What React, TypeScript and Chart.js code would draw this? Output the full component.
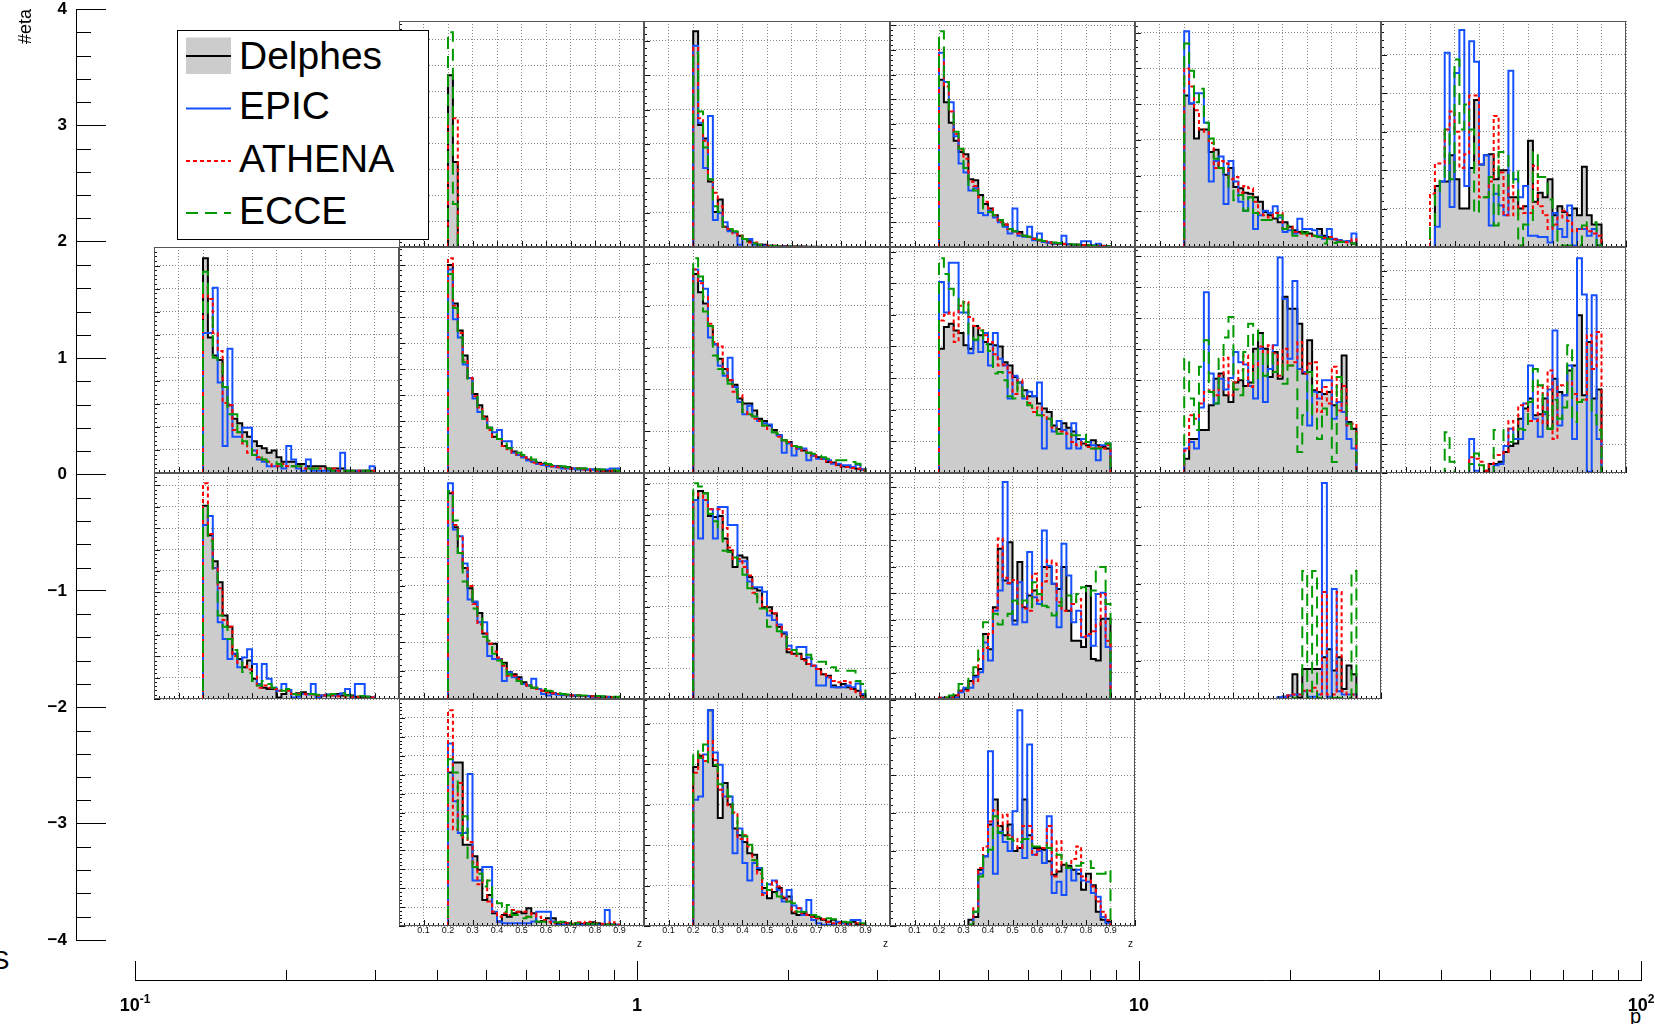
import React, { useEffect, useRef } from 'react';
import Chart from 'chart.js/auto';

const FONT = '"Liberation Sans", Arial, Helvetica, sans-serif';

// ---------- series ----------
const seriesNames = ['Delphes', 'EPIC', 'ATHENA', 'ECCE'];
const seriesColors = ['#000000', '#1450ff', '#ff0000', '#009a00'];
const delphesFill = '#cccccc';
const seriesDash: number[][] = [[], [], [4, 3], [12, 7]];

// ---------- main axes ----------
const etaMin = -4;
const etaMax = 4;
const etaTickValues = [-4, -3, -2, -1, 0, 1, 2, 3, 4];
const pMin = 0.1;
const pMax = 100;
const pTickValues = [0.1, 1, 10, 100];
const pTickBase = ['10', '1', '10', '10'];
const pTickExp = ['-1', '', '', '2'];

// ---------- pad axes ----------
const zTickValues = [0.1, 0.2, 0.3, 0.4, 0.5, 0.6, 0.7, 0.8, 0.9];
const zTickLabels = ['0.1', '0.2', '0.3', '0.4', '0.5', '0.6', '0.7', '0.8', '0.9'];
const zBinWidth = 0.02;

// ---------- histogram contents (height in % of pad range), bins of 0.02 from zStart ----------
// row 0 (eta 2..4)
const d_0_1 = [76, 37.6];
const e_0_1 = [0, 0];
const a_0_1 = [57, 57];
const c_0_1 = [95, 19];

const d_0_2 = [95.5, 54, 48, 29, 15.5, 21, 9, 7.5, 6.5, 5, 3.5, 2.5, 1.5, 1, 1, 0.5, 0.5, 0.3, 0.3, 0.3, 0.2, 0.2, 0.2, 0.1, 0.1, 0.1, 0, 0, 0, 0, 0, 0, 0, 0, 0];
const e_0_2 = [89, 55, 35, 58, 12, 15, 11, 7, 6.5, 1, 3.5, 3.5, 1, 1, 0.5, 0.5, 0.3, 0.3, 0.2, 0.2, 0.1, 0.1, 0, 0, 0, 0, 0, 0, 0, 0, 0, 0, 0, 0, 0];
const a_0_2 = [88, 57, 47, 30, 24, 18, 9, 8, 6, 5, 3.5, 2, 2, 1, 0.8, 0.5, 0.5, 0.3, 0.3, 0.2, 0.2, 0.1, 0.1, 0, 0, 0, 0, 0, 0, 0, 0, 0, 0, 0, 0];
const c_0_2 = [86, 60, 44, 30, 18, 15.5, 9, 8, 7, 5.5, 3.5, 2.5, 1.5, 1, 0.8, 0.5, 0.4, 0.3, 0.2, 0.2, 0.1, 0.1, 0, 0, 0, 0, 0, 0, 0, 0, 0, 0, 0, 0, 0];

const d_0_3 = [74, 64, 55, 47, 42, 41, 30, 29.5, 23, 19, 17, 14, 12, 10, 8, 7, 6.6, 5, 4.4, 3.8, 3, 2.2, 2, 1.6, 1.5, 1.4, 1.2, 1, 1, 0.8, 0.8, 0.6, 0.5, 0.4, 0.4];
const e_0_3 = [86, 73, 64, 49, 37, 33, 25, 26, 15, 14, 16, 13, 11, 9, 6, 17, 5, 4.5, 9, 3, 6, 2.2, 2, 1.6, 1.4, 5, 1.2, 1, 1, 2.5, 2.5, 0.8, 1.4, 0.5, 0.4];
const a_0_3 = [88, 71, 60, 50, 43, 39, 29, 27, 22, 20, 17, 14, 11, 10, 8, 7, 6, 5, 4.5, 3.5, 3, 2.5, 2, 1.8, 1.5, 1.3, 1.2, 1, 1, 0.8, 0.7, 0.6, 0.5, 0.4, 0.3];
const c_0_3 = [95.5, 73, 60, 51, 43.5, 35, 26.6, 25, 22, 17, 15.5, 14, 12, 9.5, 8, 7, 6, 5, 4.5, 3.8, 3.2, 2.6, 2.2, 2, 1.8, 1.5, 1.3, 1.1, 1, 0.8, 0.7, 0.6, 0.5, 0.4, 0.3];

const d_0_4 = [67, 63.5, 48, 52, 52, 42, 43, 35, 32, 35, 26.6, 26, 24, 23.6, 22, 20, 15.5, 14, 12.6, 11, 11, 9, 7.4, 6.6, 6.6, 6, 5, 8, 5, 4.4, 3.4, 3, 2.2, 2.5, 1.5];
const e_0_4 = [95.5, 63.5, 68, 68, 55, 29, 38, 40, 19, 38, 29, 20, 16, 22, 8, 14, 16, 15, 18, 13, 6.6, 7.4, 6, 12.5, 8, 8, 7.4, 5, 3.7, 8, 3.7, 3, 2.5, 2.5, 6];
const a_0_4 = [79, 71, 60.5, 52, 51, 46, 35, 38, 37, 30, 31, 24, 27, 26, 20, 15, 14, 13, 15, 15, 8, 9, 6.6, 6, 5.5, 5, 5, 4.5, 4, 4.4, 3.4, 2.5, 2.2, 2, 3.4];
const c_0_4 = [90, 78, 64, 70, 55, 48, 39, 35, 32, 25, 20.7, 23, 16, 22, 15, 12, 12, 12, 12, 14, 8, 9.5, 5, 7, 6, 6.5, 5, 4.4, 1.5, 3.7, 1.8, 2.2, 2.2, 1.8, 1.5];

const d_0_5 = [0, 27, 29, 29, 40.6, 30, 17, 17, 35, 65, 36.5, 40.6, 41, 30, 34, 34, 22, 22, 17, 18, 47, 20, 24, 22, 30, 14, 18, 15.5, 14, 17, 14, 35.5, 14, 10, 10];
const e_0_5 = [0, 9, 29, 86, 17.7, 77, 96, 27, 91, 82, 36.5, 40.6, 9.5, 23.6, 18.4, 14, 78, 30, 22, 27, 5, 5, 4.4, 4.4, 2, 15, 8, 4.4, 18.4, 0.7, 8, 8, 5, 8, 0.7];
const a_0_5 = [23.6, 37, 37, 52, 60, 51, 35, 41, 67, 67, 22, 22, 29, 58, 33, 14, 27, 14, 18, 15, 15, 36, 18, 14, 8, 10, 13, 16, 11.5, 7, 8, 9, 7, 6, 5];
const c_0_5 = [10, 24.5, 31, 52, 30, 83, 52, 63, 52, 15, 22, 22, 31, 9.5, 42, 42, 27, 34, 0.7, 10, 10, 42, 31, 31, 21, 9.5, 0.7, 0.7, 0.7, 0.7, 0.7, 9.5, 11, 11, 0.7];

// row 1 (eta 0..2)
const d_1_0 = [95, 60, 52, 50, 38, 30, 24, 22, 18, 16, 14, 12, 11, 9, 10, 7, 5, 5, 5, 4, 4, 3, 3, 3, 3, 2, 2, 2, 2, 1, 1, 1, 1, 1, 1];
const e_1_0 = [62, 62, 82, 40, 12, 55, 16, 16, 20, 20, 10, 6, 5, 3, 3, 3, 2, 12, 6, 2, 1, 6, 1, 1, 1, 1, 1, 1, 9, 1, 1, 1, 1, 1, 3];
const a_1_0 = [82, 77, 62, 54, 31, 30, 19, 18, 13, 9, 10, 7, 6, 5, 3, 3, 4, 3, 3, 3, 2, 2, 2, 2, 2, 2, 2, 1, 1, 1, 1, 1, 1, 1, 1];
const c_1_0 = [89, 69, 51, 49, 38, 26, 26, 18, 14, 12, 8, 7, 6, 5, 5, 4, 3, 3, 3, 3, 3, 2, 2, 2, 2, 2, 1, 1, 1, 1, 1, 1, 1, 1, 0.5];

const d_1_1 = [92, 75, 63, 52, 42, 35, 30, 25, 20, 16, 15, 12, 11, 9.5, 8, 7, 6, 5, 4.5, 4, 3.5, 3, 3, 2.5, 2.5, 2, 2, 2, 1.5, 1.5, 1.5, 1, 1, 1, 1];
const e_1_1 = [90, 68, 60, 48, 42, 33, 27, 24, 20, 18, 19, 14, 14, 9, 8, 7, 5.5, 5, 4, 3.5, 3, 3, 2.5, 2, 2, 2, 1.5, 1.5, 1.5, 1.5, 1, 1.5, 1.5, 2, 2];
const a_1_1 = [95, 74, 62, 50, 42, 34, 29, 25, 19, 16, 15, 12, 10.5, 9, 8, 7, 6, 4.5, 4, 4, 3.5, 3, 2.5, 2.5, 2, 2, 2, 1.5, 1.5, 1, 1, 1, 1, 1, 0.5];
const c_1_1 = [88, 73, 60, 49, 41, 35, 28, 24, 20, 17, 15, 13, 11, 10, 9, 8, 7, 6, 5, 4.5, 4, 3.5, 3, 3, 2.5, 2.5, 2, 2, 2, 2, 1.5, 1.5, 1.5, 1.5, 1];

const d_1_2 = [88, 80, 75, 65, 57, 50.6, 46, 41, 39, 33, 30.7, 30.7, 27.7, 24, 23, 21, 19, 16.7, 14.5, 13.7, 12, 10.8, 10, 9, 7.7, 7, 6.3, 4.9, 4.6, 3.7, 3, 2.7, 2.4, 1.9, 1.6];
const e_1_2 = [90, 85, 81.5, 60, 57, 47.5, 43, 51, 38, 31.4, 26, 29.8, 25, 23, 22, 21.5, 18, 16.7, 9, 13, 7.7, 10.8, 10.8, 5.6, 7.7, 6.3, 6.3, 5.6, 4.1, 4.1, 3.4, 3.4, 2.7, 3.7, 1.6];
const a_1_2 = [90, 84, 78, 66, 58, 56, 46, 41, 36, 34.5, 27, 25.5, 24, 23, 21, 19.5, 18, 16, 14.5, 13.7, 12, 10.8, 10, 9, 7.7, 7, 6.3, 4.9, 4.6, 3.4, 2.7, 2.7, 2.2, 1.9, 1.2];
const c_1_2 = [95, 87, 71.5, 65, 52, 46, 44, 39.5, 37, 31.4, 27, 26, 25, 23, 21, 19.5, 18, 17.4, 14.5, 13, 12, 11.5, 10, 9, 8.5, 7.7, 7, 6.3, 5.6, 5.6, 5.6, 5.6, 4.9, 4.1, 3.4];

const d_1_3 = [55, 64.6, 66, 63, 62, 56.5, 55, 65, 61, 58, 57, 56.5, 56, 49, 47.6, 42.5, 40, 36.6, 34, 34, 30.7, 28.5, 27, 21, 19.5, 22, 20, 18.4, 15, 13, 12.3, 14.5, 12.3, 11.5, 10.8];
const e_1_3 = [84.5, 71, 93, 93, 71, 71, 53, 58.7, 53.5, 62, 47.6, 62, 50.6, 47.6, 33, 43, 40, 33, 36, 34, 40, 10.8, 24, 18.4, 23, 19, 10.8, 22, 10.8, 15, 13.7, 12.3, 5.6, 12.3, 13];
const a_1_3 = [67.5, 70, 71, 58, 74, 75.7, 69, 65, 64, 61, 58, 52.5, 47.6, 48, 44.5, 35, 41, 34, 31, 27, 29, 25.5, 24, 20, 18.4, 18.4, 17.4, 13.7, 12.3, 13.7, 11.5, 10.8, 11.5, 10.8, 12.3];
const c_1_3 = [95, 88, 81.5, 78.6, 71, 76, 61, 59, 63, 57, 54, 44, 44.7, 41, 34, 33, 40, 34, 30, 27.7, 25.5, 24, 24, 19.6, 17.4, 17.4, 17.4, 16.7, 16.7, 17.4, 13.7, 10.8, 10.8, 10.8, 13];

const d_1_4 = [6.3, 15, 15, 19, 19, 30, 41.7, 44, 34.4, 31.4, 40, 41, 38.5, 40, 55, 62, 55, 42.5, 53.5, 41.7, 78, 72.7, 72.7, 66, 44, 58.7, 36.6, 35.8, 35, 35.8, 30, 31.4, 52, 22.6, 19.6];
const e_1_4 = [10.8, 13.7, 10.8, 29, 80, 44, 30.7, 41.7, 37, 42, 53.5, 49, 48, 38.5, 33, 55, 31.4, 46, 56.5, 95.4, 77, 50.6, 85, 46, 44.7, 21, 36, 33, 41, 41, 24, 31.4, 27, 15, 10.8];
const a_1_4 = [10, 25.5, 24, 30.7, 35.8, 36.6, 34.4, 43, 51, 34.4, 40, 45.4, 52, 38, 47.6, 56, 53, 56.5, 53, 43, 55, 47.6, 49, 58, 44, 48.5, 49, 27, 38, 30.7, 47, 27.7, 38.5, 21, 21.8];
const c_1_4 = [50.6, 33, 19, 47, 58.7, 35.8, 30.7, 50.6, 60, 69, 37, 34.4, 53.5, 66, 40, 63, 43, 53.5, 44.7, 48.5, 39.5, 47.6, 47.6, 9.3, 25.5, 44.7, 24, 15, 28.5, 24, 4.9, 42.5, 30.7, 21.8, 19.6];

const d_1_5 = [0, 0, 0, 0, 0, 0, 0, 0, 0, 0, 0, 1, 4, 4, 5, 9.3, 12, 13, 24, 28.5, 33, 25.5, 26, 33, 19.6, 41.7, 35.8, 34.4, 45.4, 47.6, 69.8, 34.4, 58, 33, 37];
const e_1_5 = [0, 0, 0, 0, 0, 0, 0, 0, 15, 1, 0, 0, 0, 3.4, 4, 12, 19.6, 15, 15, 30.7, 47.6, 24, 16, 26, 37, 63, 21, 34.4, 47.6, 15, 95, 79, 0.5, 78.6, 15];
const a_1_5 = [0, 0, 0, 0, 0, 0, 0, 0, 7, 6.3, 5, 1, 4, 8, 8, 9.3, 23, 19, 30, 30.7, 23, 23, 38.8, 22, 45.4, 15, 38.8, 38.8, 40, 35, 31.4, 32.4, 61, 46, 62.4];
const c_1_5 = [0, 0, 0, 18, 5, 0, 0, 0, 4, 8.6, 3.4, 0, 0, 19, 19, 14.5, 13.7, 19, 19.6, 19, 31.4, 46, 38.8, 27, 19.6, 32.4, 24, 29, 56.5, 22.6, 31.4, 32.4, 32.4, 25.5, 19];

// row 2 (eta -2..0)
const d_2_0 = [85.5, 72.5, 61, 51.7, 37, 32, 20, 17.7, 14, 17, 9, 6.6, 5, 4.4, 4.4, 0.7, 2.2, 4, 2.2, 2.5, 3, 2.2, 2.2, 1.5, 1.5, 1.8, 1.8, 2.2, 1.5, 1.8, 1.5, 1, 1, 1, 0.7];
const e_2_0 = [77, 81, 58, 34, 26.6, 17.7, 20, 14, 18.4, 22, 15.5, 6.6, 15.5, 9, 5, 3.7, 6.6, 4, 0.7, 1, 2.2, 2, 6.6, 0.7, 1.5, 2, 1.5, 1.5, 2.5, 4.4, 1, 6.6, 6.6, 1, 0.7];
const a_2_0 = [95.5, 73, 58, 49, 35, 32, 19, 16, 14.7, 13, 10, 5, 6, 5, 4.4, 3.7, 3.7, 3.7, 2.2, 2.2, 2.2, 2, 2, 1.5, 1.5, 1.5, 1.5, 1.2, 1.2, 1, 1, 1, 1, 0.7, 0.7];
const c_2_0 = [85.5, 70, 57, 37, 32, 26.6, 21.7, 17, 12, 11.5, 8, 6, 8, 6.6, 5, 4.4, 3.7, 4.4, 2.2, 1.9, 2.5, 2.2, 2.2, 1.9, 1.5, 1.5, 2.2, 2.2, 2.5, 1.5, 1.5, 1.2, 1.3, 1, 0.7];

const d_2_1 = [91, 76, 64.6, 58, 49, 43, 38, 29, 24.4, 24.4, 17.7, 16, 12, 11, 9.6, 7.4, 6, 5, 4.4, 3.7, 3, 2.5, 2.2, 1.9, 1.8, 1.6, 1.5, 1.3, 1.3, 1.2, 1, 1, 1, 0.9, 0.9];
const e_2_1 = [95.5, 75, 72, 60, 44, 43, 34, 34, 19, 17.7, 17.7, 8, 11.8, 9.6, 8.8, 6.6, 6, 9, 4.4, 2.2, 1.5, 2.2, 1.9, 1.9, 1.6, 1.5, 1.3, 1.3, 1.2, 1, 1, 1, 0.9, 0.9, 0.9];
const a_2_1 = [91.5, 77, 72, 58, 50, 42, 33, 29, 24.4, 21, 18.4, 14.7, 10.3, 10.3, 8.8, 6.6, 6, 5, 4.4, 3.7, 3, 2.5, 2.2, 2.2, 1.8, 1.6, 1.5, 1.3, 1.2, 1.2, 1, 1, 0.9, 0.9, 0.8];
const c_2_1 = [92, 79, 64.6, 52, 48, 40, 37, 27.5, 25.8, 20, 17, 15.5, 11, 10.3, 8, 6.6, 6, 5, 5, 4.4, 3.7, 3.4, 2.5, 2.2, 2, 1.8, 1.6, 1.5, 1.5, 1.3, 1.3, 1.2, 1, 1, 1];

const d_2_2 = [88, 92, 91, 81, 80.5, 81, 71, 65.6, 58.4, 63.5, 62.6, 54, 49, 48, 40.6, 40.6, 37.8, 32, 29, 20.7, 20, 20, 17.7, 15.5, 14.7, 13.3, 11, 10.3, 6, 5.2, 6.6, 5.2, 4.4, 3.7, 1.5];
const e_2_2 = [88, 71, 88, 84, 71, 85, 85, 77, 77, 61, 61, 52, 49.5, 49.5, 47.5, 37, 35, 33, 29.5, 23.6, 21.7, 23, 23, 18.4, 14.7, 6, 6, 9.6, 5.2, 5.2, 5.2, 6, 5.2, 6.9, 2.2];
const a_2_2 = [91, 90, 88, 84, 84, 84, 75.7, 67, 62, 62, 58.4, 54.6, 47, 45, 41, 39, 37.8, 32, 27.5, 22, 20, 19, 17, 15.5, 14.7, 13.3, 11, 9.6, 8, 7.4, 8, 7.4, 4.4, 3, 0.7];
const c_2_2 = [95.5, 94, 91, 82, 78.6, 74, 65.6, 65, 62.6, 58.4, 55, 49, 46.5, 40, 40, 32, 32.5, 30, 29.5, 23, 21.7, 20, 19.6, 19.6, 17.7, 16.5, 16.5, 14.7, 14, 12.5, 12.5, 12.5, 12.5, 8, 6.6];

const d_2_3 = [0.5, 0.5, 0.7, 1.5, 3.7, 4.4, 8, 10.3, 13.3, 28.8, 22, 40.6, 66.5, 52.4, 69.4, 34.7, 60.6, 40.6, 45.8, 48, 46.5, 58.4, 58.4, 51, 48.7, 58.4, 39, 25.8, 25.8, 23, 50, 17.7, 17, 35.5, 35.5];
const e_2_3 = [0.3, 0.3, 0.5, 0.7, 3, 5, 5, 9.6, 11.8, 25, 17, 39, 48, 96, 51, 33, 51.7, 34, 65, 45, 42, 74.6, 59, 51, 31.8, 68.7, 54.6, 34, 39, 27.3, 28, 23.6, 46.5, 47, 23];
const a_2_3 = [0.5, 0.5, 0.7, 1.5, 3.7, 3.7, 6.6, 8, 17.7, 22.6, 28.8, 40, 71, 53.6, 51.3, 52.7, 42, 40, 39, 55.4, 43.6, 52, 61.3, 60, 42.8, 39, 39, 42, 44.3, 27.5, 28.8, 30, 33, 46.5, 25.8];
const c_2_3 = [0.7, 0.7, 1.5, 2.2, 6.6, 5, 10.3, 14, 23, 34, 34.7, 37.7, 33, 35.5, 37.7, 43.6, 41.3, 43.6, 40.6, 51.7, 46.5, 41.3, 40.6, 37, 41.3, 45, 45.8, 42, 46.5, 49.5, 45.8, 48, 58.4, 58.4, 42];

const d_2_4 = [0, 0, 0, 0, 0, 0, 0, 0, 0, 0, 0, 0, 0, 0, 0, 0, 0, 0, 0, 0.7, 1, 1.5, 11, 0.7, 13.3, 13.3, 13.3, 13.3, 18.5, 22, 12.6, 18.5, 4.4, 14.8, 11];
const e_2_4 = [0, 0, 0, 0, 0, 0, 0, 0, 0, 0, 0, 0, 0, 0, 0, 0, 0, 0, 0, 0.7, 1, 1.5, 2, 2, 3.4, 1, 1, 2, 95.6, 1, 48.7, 3.4, 2, 2, 2];
const a_2_4 = [0, 0, 0, 0, 0, 0, 0, 0, 0, 0, 0, 0, 0, 0, 0, 0, 0, 0, 0, 0, 0, 1.5, 2, 2, 3.7, 3.7, 5, 2, 47.4, 2, 2, 47.4, 3.4, 2, 2];
const c_2_4 = [0, 0, 0, 0, 0, 0, 0, 0, 0, 0, 0, 0, 0, 0, 0, 0, 0, 0, 0, 0, 0, 0, 0.5, 0.5, 56.6, 0.5, 56.6, 0.5, 0.5, 0.5, 0.5, 0.5, 0.5, 0.5, 56.6];

// row 3 (eta -4..-2)
const d_3_1 = [67.6, 72, 72, 35.8, 35.8, 30.7, 24.8, 11.5, 13.7, 5.6, 2, 4.9, 4.1, 5.6, 6.3, 5.6, 7.8, 5.6, 1.9, 2.2, 3.4, 3.4, 1.2, 1.6, 1.2, 0.7, 1.2, 1, 1.2, 1.6, 1.2, 0.7, 0.7, 0.7, 0.5];
const e_3_1 = [80.4, 55, 41, 41, 67, 20, 20, 26, 26, 6.3, 2, 1.2, 1.2, 1.2, 1.2, 1.2, 1.2, 2, 6.3, 6.3, 6.3, 2, 0.5, 0.5, 0.5, 0.5, 0.5, 0.5, 0.5, 0.5, 0.5, 0.5, 7, 0.7, 0.5];
const a_3_1 = [95, 42.5, 63, 39, 37, 28, 18.4, 20, 10.8, 6.3, 4.1, 5.6, 4.9, 7, 6.3, 6.3, 4.1, 5.6, 4.1, 2.6, 1.9, 1.2, 1.9, 1.2, 1.2, 1, 1.6, 1.2, 1.9, 1.6, 1.2, 1, 1, 1.6, 0.5];
const c_3_1 = [73.5, 67.6, 40, 48.4, 30, 26, 23, 17.4, 20, 11.5, 10, 6.3, 9.3, 4.9, 4.9, 3.4, 4.1, 3.4, 1.9, 1.9, 1.6, 1.6, 1.6, 1.9, 1.2, 0.7, 1.2, 1.2, 1, 1, 1, 1, 0.7, 0.5, 0.5];

const d_3_2 = [70, 75, 72.7, 95, 70.5, 47.6, 63, 53.5, 43, 40, 37, 32, 31.4, 24.8, 16.7, 12.2, 15, 16.7, 12.2, 13, 5.6, 4.9, 5.6, 4.9, 4.1, 3.4, 2.7, 1.9, 2.7, 1.6, 1.6, 1.2, 1.9, 0.7, 0.5];
const e_3_2 = [55.6, 57, 75.6, 95, 76.4, 71, 57, 57, 32, 43, 27.7, 20, 27.7, 25.5, 14.5, 18.4, 20, 15.9, 10.8, 15.9, 9, 7.8, 4.9, 11.5, 2.6, 1.2, 0.5, 0.5, 0.5, 1.9, 1.2, 0.7, 2.6, 2.6, 0.5];
const a_3_2 = [67.5, 75.6, 72.7, 81.5, 73, 60, 57, 52.5, 50, 38.3, 40, 35, 29, 23, 13.7, 15.9, 19.6, 17.4, 12.9, 10.8, 6.3, 7.8, 5.6, 4.9, 4.1, 3.4, 3, 1.9, 1.2, 1.2, 1.6, 0.7, 1.2, 1.2, 0.5];
const c_3_2 = [77, 74, 80, 71, 71, 62.4, 61.7, 57, 48.5, 43, 39.5, 35.8, 29, 25.5, 21, 15.9, 14.5, 13, 11.5, 10.8, 10, 6.3, 6.3, 5.6, 4.9, 4.1, 4.1, 3.4, 3, 1.9, 1.9, 1.6, 1.6, 1.2, 1.2];

const d_3_3 = [0, 0, 0, 0, 0, 0, 2.7, 4, 24.8, 30.7, 44.7, 55.7, 44, 40, 44.7, 33, 34.4, 55.7, 40, 34.4, 34.4, 33.6, 28.5, 22.6, 24, 27, 26.5, 24.8, 23, 16, 23, 18, 6.3, 2.7, 1.9];
const e_3_3 = [0, 0, 0, 0, 0, 0, 0.5, 6.3, 23, 30.7, 77, 23, 41.5, 37, 33, 50.6, 95, 30, 80, 31.4, 33, 27.7, 48.4, 14.5, 19.5, 13.7, 25.5, 20, 24.8, 20, 19.5, 14.5, 12.9, 4, 1.2];
const a_3_3 = [0, 0, 0, 0, 0, 0, 0.5, 7.8, 25.5, 35, 46, 51, 44, 49, 40, 38.3, 34.4, 44, 44, 31.4, 33.6, 34.4, 44, 21.8, 37.3, 27, 25.5, 29.5, 35, 21.8, 20, 17.4, 10.8, 6.3, 2.6];
const c_3_3 = [0, 0, 0, 0, 0, 0, 0.5, 6.3, 21.8, 30.7, 33.6, 48.4, 41, 40, 38.3, 37.6, 37, 38.3, 38.3, 35, 35, 35.8, 34.4, 32, 31.4, 27.7, 25.5, 27, 26.5, 27.7, 28.5, 25.5, 23, 23, 24.8];

// pad table: eta row (0 = top), p column, first bin edge, horizontal grid step (% of range)
type Pad = { row: number; col: number; zStart: number; gridStep: number; h: number[][] };
const PADS: Pad[] = [
  { row: 0, col: 1, zStart: 0.2, gridStep: 11.46, h: [d_0_1, e_0_1, a_0_1, c_0_1] },
  { row: 0, col: 2, zStart: 0.2, gridStep: 15.2, h: [d_0_2, e_0_2, a_0_2, c_0_2] },
  { row: 0, col: 3, zStart: 0.2, gridStep: 10.9, h: [d_0_3, e_0_3, a_0_3, c_0_3] },
  { row: 0, col: 4, zStart: 0.2, gridStep: 15.8, h: [d_0_4, e_0_4, a_0_4, c_0_4] },
  { row: 0, col: 5, zStart: 0.2, gridStep: 17, h: [d_0_5, e_0_5, a_0_5, c_0_5] },
  { row: 1, col: 0, zStart: 0.2, gridStep: 10.2, h: [d_1_0, e_1_0, a_1_0, c_1_0] },
  { row: 1, col: 1, zStart: 0.2, gridStep: 11.5, h: [d_1_1, e_1_1, a_1_1, c_1_1] },
  { row: 1, col: 2, zStart: 0.2, gridStep: 18.5, h: [d_1_2, e_1_2, a_1_2, c_1_2] },
  { row: 1, col: 3, zStart: 0.2, gridStep: 14, h: [d_1_3, e_1_3, a_1_3, c_1_3] },
  { row: 1, col: 4, zStart: 0.2, gridStep: 13.7, h: [d_1_4, e_1_4, a_1_4, c_1_4] },
  { row: 1, col: 5, zStart: 0.2, gridStep: 12.8, h: [d_1_5, e_1_5, a_1_5, c_1_5] },
  { row: 2, col: 0, zStart: 0.2, gridStep: 9.45, h: [d_2_0, e_2_0, a_2_0, c_2_0] },
  { row: 2, col: 1, zStart: 0.2, gridStep: 12.55, h: [d_2_1, e_2_1, a_2_1, c_2_1] },
  { row: 2, col: 2, zStart: 0.2, gridStep: 13.6, h: [d_2_2, e_2_2, a_2_2, c_2_2] },
  { row: 2, col: 3, zStart: 0.2, gridStep: 11.7, h: [d_2_3, e_2_3, a_2_3, c_2_3] },
  { row: 2, col: 4, zStart: 0.2, gridStep: 17, h: [d_2_4, e_2_4, a_2_4, c_2_4] },
  { row: 3, col: 1, zStart: 0.2, gridStep: 8.33, h: [d_3_1, e_3_1, a_3_1, c_3_1] },
  { row: 3, col: 2, zStart: 0.2, gridStep: 17.8, h: [d_3_2, e_3_2, a_3_2, c_3_2] },
  { row: 3, col: 3, zStart: 0.2, gridStep: 16.6, h: [d_3_3, e_3_3, a_3_3, c_3_3] },
];

// ---------- layout (pixels) ----------
const PAD_X0 = 153.5;
const PAD_W = 245.45;
const PAD_Y0 = 20.7;
const PAD_H = 226.25;
const PAD_M = 3;
const LABEL_EXTRA = 26;
const GRID_COLOR = '#8a8a8a';

function padGeom(p: Pad) {
  const x0 = Math.round(PAD_X0 + PAD_W * p.col);
  const x1 = Math.round(PAD_X0 + PAD_W * (p.col + 1));
  const y0 = Math.round(PAD_Y0 + PAD_H * p.row);
  const y1 = Math.round(PAD_Y0 + PAD_H * (p.row + 1));
  const bottomRow = p.row === 3;
  const extra = bottomRow ? LABEL_EXTRA : 0;
  return {
    left: x0 - PAD_M,
    top: y0 - PAD_M,
    w: x1 - x0 + 2 * PAD_M,
    h: y1 - y0 + 2 * PAD_M + extra,
    extra,
    bottomRow,
  };
}

function histPoints(zStart: number, vals: number[]) {
  const pts: { x: number; y: number }[] = [{ x: 0, y: 0 }];
  vals.forEach((v, i) => pts.push({ x: zStart + i * zBinWidth, y: v }));
  pts.push({ x: zStart + vals.length * zBinWidth, y: 0 });
  pts.push({ x: 1, y: 0 });
  return pts;
}

const padDecor = {
  id: 'padDecor',
  afterDraw(chart: any, _args: any, opts: any) {
    const { ctx, chartArea: a, scales } = chart;
    const x = scales.x;
    const y = scales.y;
    const step = opts.gridStep as number;
    ctx.save();
    ctx.strokeStyle = '#111';
    ctx.lineWidth = 1;
    ctx.beginPath();
    for (let k = 0; k <= 50; k++) {
      const px = Math.round(x.getPixelForValue(k * zBinWidth)) + 0.5;
      const len = k % 5 === 0 ? 6 : 3;
      ctx.moveTo(px, a.bottom);
      ctx.lineTo(px, a.bottom - len);
    }
    const minor = step / 5;
    for (let k = 0; k * minor <= 100 + 1e-6; k++) {
      const py = Math.round(y.getPixelForValue(k * minor)) + 0.5;
      const len = k % 5 === 0 ? 6 : 3;
      ctx.moveTo(a.left, py);
      ctx.lineTo(a.left + len, py);
    }
    ctx.stroke();
    ctx.strokeStyle = '#555';
    ctx.strokeRect(a.left + 0.5, a.top + 0.5, a.right - a.left - 1, a.bottom - a.top - 1);
    if (opts.labels) {
      ctx.fillStyle = '#111';
      ctx.font = `9px ${FONT}`;
      ctx.textAlign = 'center';
      ctx.textBaseline = 'middle';
      zTickValues.forEach((v, i) => {
        ctx.fillText(zTickLabels[i], x.getPixelForValue(v), a.bottom + 5);
      });
      ctx.font = `10px ${FONT}`;
      ctx.textAlign = 'right';
      ctx.fillText('z', a.right - 2, a.bottom + 18);
    }
    ctx.restore();
  },
};

const etaMinor = {
  id: 'etaMinor',
  afterDraw(chart: any) {
    const { ctx, chartArea: a, scales } = chart;
    const y = scales.y;
    ctx.save();
    ctx.strokeStyle = '#000';
    ctx.lineWidth = 1;
    ctx.beginPath();
    for (let k = 0; k <= 40; k++) {
      if (k % 5 === 0) continue;
      const py = Math.round(y.getPixelForValue(etaMin + k * 0.2)) + 0.5;
      ctx.moveTo(a.left, py);
      ctx.lineTo(a.left + 15, py);
    }
    ctx.stroke();
    ctx.restore();
  },
};

const pAxisDecor = {
  id: 'pAxisDecor',
  afterDraw(chart: any) {
    const { ctx, chartArea: a, scales } = chart;
    const x = scales.x;
    ctx.save();
    ctx.strokeStyle = '#000';
    ctx.lineWidth = 1;
    ctx.beginPath();
    for (let d = -1; d <= 2; d++) {
      for (let m = 1; m <= 9; m++) {
        const v = m * Math.pow(10, d);
        if (v > pMax * 1.0001) break;
        const px = Math.round(x.getPixelForValue(v)) + 0.5;
        const len = m === 1 ? 19 : 10;
        ctx.moveTo(px, a.bottom);
        ctx.lineTo(px, a.bottom - len);
      }
    }
    ctx.stroke();
    ctx.fillStyle = '#000';
    ctx.textBaseline = 'alphabetic';
    ctx.textAlign = 'left';
    pTickValues.forEach((v, i) => {
      const px = x.getPixelForValue(v);
      ctx.font = `bold 18px ${FONT}`;
      const wb = ctx.measureText(pTickBase[i]).width;
      ctx.font = `bold 12px ${FONT}`;
      const we = pTickExp[i] ? ctx.measureText(pTickExp[i]).width : 0;
      const start = px - (wb + we) / 2;
      ctx.font = `bold 18px ${FONT}`;
      ctx.fillText(pTickBase[i], start, a.bottom + 31);
      if (pTickExp[i]) {
        ctx.font = `bold 12px ${FONT}`;
        ctx.fillText(pTickExp[i], start + wb, a.bottom + 23);
      }
    });
    ctx.restore();
  },
};

export default function App() {
  const yRef = useRef<HTMLCanvasElement>(null);
  const xRef = useRef<HTMLCanvasElement>(null);
  const padRefs = useRef<(HTMLCanvasElement | null)[]>([]);

  useEffect(() => {
    const charts: Chart[] = [];
    const base = {
      animation: false as const,
      responsive: false,
      events: [] as any[],
    };

    if (yRef.current) {
      charts.push(
        new Chart(yRef.current, {
          type: 'line',
          data: { datasets: [] },
          options: {
            ...base,
            layout: { padding: { left: 0, top: 9, right: 1655 - 106, bottom: 1024 - 940 } },
            plugins: { legend: { display: false }, tooltip: { enabled: false } },
            scales: {
              x: { type: 'linear', display: false, min: 0, max: 1 },
              y: {
                type: 'linear',
                min: etaMin,
                max: etaMax,
                afterBuildTicks: (s: any) => {
                  s.ticks = etaTickValues.map((v) => ({ value: v }));
                },
                ticks: {
                  font: { family: FONT, size: 17, weight: 'bold' },
                  color: '#000',
                  padding: 9,
                  callback: (v: any) => (Number(v) < 0 ? '\u2212' + Math.abs(Number(v)) : String(v)),
                },
                grid: { drawOnChartArea: true, drawTicks: false, color: '#000', lineWidth: 1 },
                border: { display: true, color: '#000', width: 1 },
                title: {
                  display: true,
                  text: '#eta',
                  align: 'end',
                  color: '#000',
                  font: { family: FONT, size: 18 },
                  padding: { top: 15, bottom: 0 },
                },
                afterFit: (s: any) => {
                  s.width = 76;
                  s.paddingTop = 0;
                  s.paddingBottom = 0;
                },
              } as any,
            },
          },
          plugins: [etaMinor],
        })
      );
    }

    if (xRef.current) {
      charts.push(
        new Chart(xRef.current, {
          type: 'line',
          data: { datasets: [] },
          options: {
            ...base,
            layout: { padding: { left: 135, right: 1655 - 1641, top: 960, bottom: 1024 - 980 } },
            plugins: { legend: { display: false }, tooltip: { enabled: false } },
            scales: {
              x: {
                type: 'logarithmic',
                min: pMin,
                max: pMax,
                position: 'bottom',
                ticks: { display: false },
                grid: { display: false },
                border: { display: true, color: '#000', width: 1 },
                afterFit: (s: any) => {
                  s.height = 0;
                  s.paddingLeft = 0;
                  s.paddingRight = 0;
                },
              } as any,
              y: { type: 'linear', display: false, min: 0, max: 1 },
            },
          },
          plugins: [pAxisDecor],
        })
      );
    }

    PADS.forEach((p, i) => {
      const cv = padRefs.current[i];
      if (!cv) return;
      const g = padGeom(p);
      charts.push(
        new Chart(cv, {
          type: 'line',
          data: {
            datasets: p.h.map((vals, si) => ({
              label: seriesNames[si],
              data: histPoints(p.zStart, vals),
              stepped: true,
              borderColor: seriesColors[si],
              borderWidth: 2,
              borderDash: seriesDash[si],
              pointRadius: 0,
              fill: si === 0 ? 'origin' : false,
              backgroundColor: si === 0 ? delphesFill : 'rgba(0,0,0,0)',
              order: 3 - si,
            })) as any,
          },
          options: {
            ...base,
            layout: { padding: { left: PAD_M, right: PAD_M, top: PAD_M, bottom: PAD_M + g.extra } },
            plugins: {
              legend: { display: false },
              tooltip: { enabled: false },
              padDecor: { gridStep: p.gridStep, labels: g.bottomRow },
            } as any,
            scales: {
              x: {
                type: 'linear',
                min: 0,
                max: 1,
                ticks: { display: false, stepSize: 0.1 },
                grid: { drawTicks: false, color: GRID_COLOR, lineWidth: 1 },
                border: { display: false, dash: [1, 2] },
                afterFit: (s: any) => {
                  s.height = 0;
                  s.paddingLeft = 0;
                  s.paddingRight = 0;
                },
              } as any,
              y: {
                type: 'linear',
                min: 0,
                max: 100,
                ticks: { display: false, stepSize: p.gridStep, includeBounds: false },
                grid: { drawTicks: false, color: GRID_COLOR, lineWidth: 1 },
                border: { display: false, dash: [1, 2] },
                afterFit: (s: any) => {
                  s.width = 0;
                  s.paddingTop = 0;
                  s.paddingBottom = 0;
                },
              } as any,
            },
          },
          plugins: [padDecor],
        })
      );
    });

    return () => charts.forEach((c) => c.destroy());
  }, []);

  const legendBaselines = [68.5, 119, 171.5, 223.5];
  const legendFont = 39;

  return (
    <div
      style={{
        position: 'absolute',
        left: 0,
        top: 0,
        width: 1655,
        height: 1024,
        overflow: 'hidden',
        background: '#fff',
        fontFamily: FONT,
      }}
    >
      <canvas ref={yRef} width={1655} height={1024} style={{ position: 'absolute', left: 0, top: 0, zIndex: 1 }} />
      <canvas ref={xRef} width={1655} height={1024} style={{ position: 'absolute', left: 0, top: 0, zIndex: 1 }} />
      {PADS.map((p, i) => {
        const g = padGeom(p);
        return (
          <canvas
            key={i}
            ref={(el) => {
              padRefs.current[i] = el;
            }}
            width={g.w}
            height={g.h}
            style={{ position: 'absolute', left: g.left, top: g.top, width: g.w, height: g.h, zIndex: 2 }}
          />
        );
      })}
      {/* legend */}
      <div
        style={{
          position: 'absolute',
          left: 177,
          top: 30,
          width: 252,
          height: 210,
          boxSizing: 'border-box',
          border: '1px solid #000',
          background: '#fff',
          zIndex: 10,
        }}
      />
      <svg
        width={1655}
        height={260}
        style={{ position: 'absolute', left: 0, top: 0, zIndex: 11, pointerEvents: 'none' }}
      >
        <rect x={186} y={37.5} width={45} height={36.5} fill={delphesFill} />
        <line x1={186} x2={231} y1={56} y2={56} stroke={seriesColors[0]} strokeWidth={2} />
        <line x1={186} x2={231} y1={108.5} y2={108.5} stroke={seriesColors[1]} strokeWidth={2} />
        <line
          x1={186}
          x2={231}
          y1={161}
          y2={161}
          stroke={seriesColors[2]}
          strokeWidth={2}
          strokeDasharray={seriesDash[2].join(' ')}
        />
        <line
          x1={186}
          x2={231}
          y1={213}
          y2={213}
          stroke={seriesColors[3]}
          strokeWidth={2}
          strokeDasharray={seriesDash[3].join(' ')}
        />
      </svg>
      {seriesNames.map((n, i) => (
        <div
          key={n}
          style={{
            position: 'absolute',
            left: 239,
            top: legendBaselines[i] - 33,
            fontSize: legendFont,
            lineHeight: `${legendFont}px`,
            color: '#000',
            whiteSpace: 'nowrap',
            zIndex: 12,
          }}
        >
          {n}
        </div>
      ))}
      <div style={{ position: 'absolute', left: -8, top: 947, fontSize: 26, lineHeight: '26px', color: '#000' }}>S</div>
      <div style={{ position: 'absolute', left: 1630, top: 1006, fontSize: 20, lineHeight: '20px', color: '#000' }}>p</div>
    </div>
  );
}
